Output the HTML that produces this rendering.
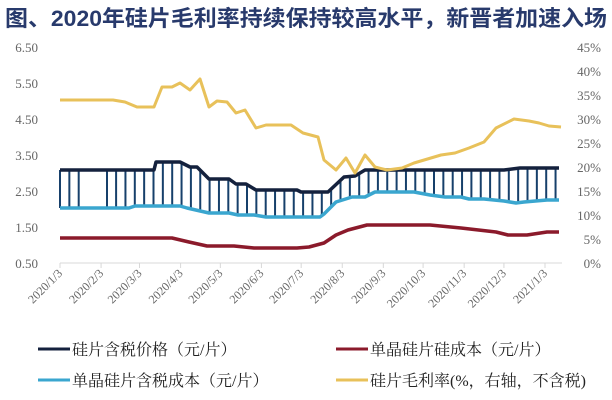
<!DOCTYPE html>
<html><head><meta charset="utf-8"><style>
html,body{margin:0;padding:0;background:#fff;}
svg{display:block;}
</style></head><body>
<svg id="s" width="612" height="400" xmlns="http://www.w3.org/2000/svg">
<rect width="612" height="400" fill="#fff"/>
<text x="5" y="26" font-family="'Liberation Sans','Noto Sans CJK SC',sans-serif" font-weight="bold" font-size="22" fill="#283a6c" textLength="602" lengthAdjust="spacingAndGlyphs">图、2020年硅片毛利率持续保持较高水平，新晋者加速入场</text>
<g font-family="'Liberation Serif',serif" font-size="13" fill="#666" text-anchor="end">
<text x="38" y="52">6.50</text><text x="38" y="88">5.50</text><text x="38" y="124">4.50</text>
<text x="38" y="160">3.50</text><text x="38" y="196">2.50</text><text x="38" y="232">1.50</text><text x="38" y="268">0.50</text>
</g>
<g font-family="'Liberation Serif',serif" font-size="13" fill="#666" text-anchor="end">
<text x="601" y="52">45%</text><text x="601" y="76">40%</text><text x="601" y="100">35%</text>
<text x="601" y="124">30%</text><text x="601" y="148">25%</text><text x="601" y="172">20%</text>
<text x="601" y="196">15%</text><text x="601" y="220">10%</text><text x="601" y="244">5%</text><text x="601" y="268">0%</text>
</g>
<line x1="60" y1="263" x2="562" y2="263" stroke="#d8d8d8" stroke-width="1"/>
<g id="ticks"></g>
<g id="hatch" stroke="#17406b" stroke-width="2"></g>
<g id="lines" fill="none" stroke-linejoin="round"></g>
<g font-family="'Liberation Serif','Noto Serif CJK SC',serif" font-size="16" fill="#222">
<line x1="38" y1="349" x2="70" y2="349" stroke="#14213d" stroke-width="3"/>
<text x="72" y="355">硅片含税价格（元/片）</text>
<line x1="336" y1="349" x2="368" y2="349" stroke="#8b1a2b" stroke-width="3"/>
<text x="370" y="355">单晶硅片硅成本（元/片）</text>
<line x1="38" y1="380" x2="70" y2="380" stroke="#3aa6cf" stroke-width="3"/>
<text x="72" y="386">单晶硅片含税成本（元/片）</text>
<line x1="336" y1="380" x2="368" y2="380" stroke="#e8c15a" stroke-width="3"/>
<text x="370" y="386">硅片毛利率(%，右轴，不含税)</text>
</g>
</svg>
<script>
var NS="http://www.w3.org/2000/svg";
function el(t,a,p){var e=document.createElementNS(NS,t);for(var k in a)e.setAttribute(k,a[k]);if(p)p.appendChild(e);return e;}
var price=[[60,170],[154,170],[156,162],[180,162],[190,167],[197,167],[209,179],[229,179],[236,184],[246,184],[256,190],[297,190],[301,192],[328,192],[344,177],[355,176],[365,170],[504,170],[520,168],[559,168]];
var cost=[[60,208],[129,208],[135,206],[180,206],[187,208],[209,213],[229,213],[238,215],[254,215],[266,217],[320,217],[324,214],[336,202],[352,197],[365,197],[375,192],[414,192],[430,195],[445,197],[461,197],[469,199],[484,199],[504,201],[516,203],[524,202],[547,200],[559,200]];
var red=[[60,238],[172,238],[189,242],[207,246],[234,246],[254,248],[297,248],[309,247],[324,243],[336,235],[348,230],[367,225],[430,225],[461,228],[496,232],[508,235],[527,235],[547,232],[559,232]];
var yel=[[60,100],[113,100],[125,102],[137,107],[154,107],[162,87],[172,87],[180,83],[190,90],[200,79],[209,107],[217,101],[227,102],[236,113],[245,110],[256,128],[266,125],[291,125],[303,133],[318,137],[324,160],[330,165],[336,170],[346,158],[355,173],[365,155],[375,167],[387,170],[402,168],[414,163],[441,155],[455,153],[469,148],[484,142],[496,128],[514,119],[529,121],[539,123],[549,126],[561,127]];
function interp(p,x){for(var i=1;i<p.length;i++){if(x<=p[i][0]){var a=p[i-1],b=p[i];var t=(x-a[0])/(b[0]-a[0]||1);return a[1]+t*(b[1]-a[1]);}}return p[p.length-1][1];}
var h=document.getElementById('hatch');
for(var x=60;x<=560;x+=9.35){if(x>82&&x<107)continue;el('line',{x1:x,y1:interp(price,x),x2:x,y2:interp(cost,x)},h);}
el('line',{x1:107,y1:170,x2:107,y2:208},h);
var L=document.getElementById('lines');
function pl(p,c,w){el('polyline',{points:p.map(function(q){return q.join(',')}).join(' '),stroke:c,'stroke-width':w},L);}
pl(cost,'#3aa6cf',3.5);pl(price,'#14213d',3.5);pl(red,'#8b1a2b',3.5);pl(yel,'#e8c15a',3);
var T=document.getElementById('ticks');
var labs=['2020/1/3','2020/2/3','2020/3/3','2020/4/3','2020/5/3','2020/6/3','2020/7/3','2020/8/3','2020/9/3','2020/10/3','2020/11/3','2020/12/3','2021/1/3'];
var days=[0,31,60,91,121,152,182,213,244,274,305,335,366];
var s=document.getElementById('s');
for(var i=0;i<labs.length;i++){var x=60+days[i]*485/366;
el('line',{x1:x,y1:263,x2:x,y2:268,stroke:'#d8d8d8'},T);
var t=el('text',{x:x+3,y:274,'text-anchor':'end',transform:'rotate(-45 '+(x+3)+' 274)','font-family':"'Liberation Serif',serif",'font-size':'12',fill:'#666'},s);t.textContent=labs[i];}
</script>
</body></html>
